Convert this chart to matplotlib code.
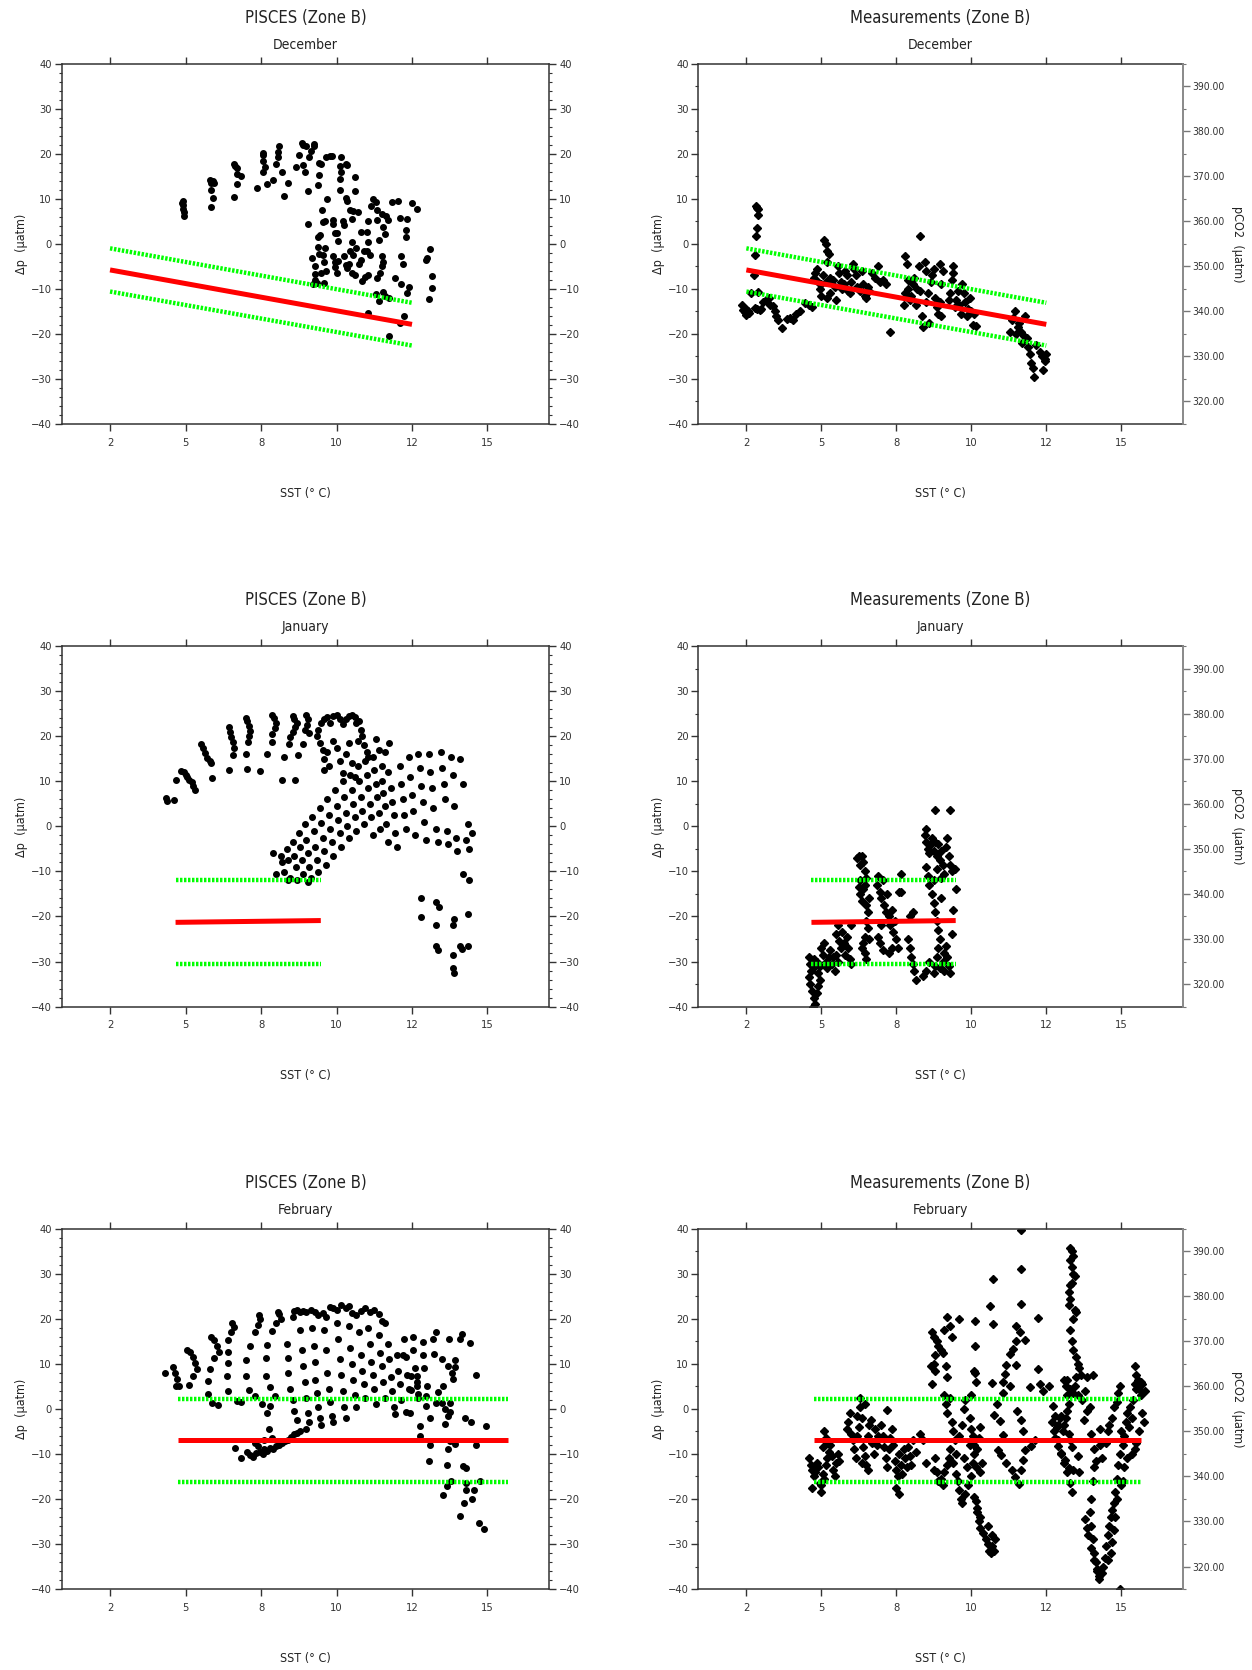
import matplotlib
matplotlib.use("Agg")
import matplotlib.pyplot as plt
from matplotlib.ticker import MultipleLocator, FormatStrFormatter
import numpy as np

plt.rcParams['font.family'] = ['DejaVu Sans']
plt.rcParams['font.stretch'] = 'condensed'
plt.rcParams['axes.unicode_minus'] = True

# x axis: ticks every 2.5 degC, labels are the rounded values
xtick_pos = [2.5, 5, 7.5, 10, 12.5, 15]
xtick_lab = ['2', '5', '8', '10', '12', '15']
pco2_offset = 355.0   # pCO2 = dp + 355

# ---------------- December ----------------
dec_fit_x = [2.5, 12.5]
dec_fit_y = [-5.8, -17.9]
dec_up_y = [-1.0, -13.1]
dec_lo_y = [-10.6, -22.6]

dec_pisces = [
    (4.88, 9.0), (4.9, 9.5), (4.9, 8.7), (4.92, 7.8), (4.95, 7.0), (4.95, 6.2),
    (5.8, 14.2), (5.85, 13.5), (5.9, 14.0), (5.95, 13.6), (5.85, 12.0), (5.9, 10.2), (5.85, 8.2),
    (6.6, 17.8), (6.65, 17.2), (6.72, 16.8), (6.85, 15.0), (6.7, 15.6), (6.7, 13.3), (6.6, 10.3),
    (7.37, 12.3), (7.55, 19.8), (7.55, 20.2), (7.55, 18.4), (7.55, 15.9), (7.62, 17.0), (7.7, 13.4), (7.9, 14.1),
    (8.0, 17.8), (8.05, 19.4), (8.05, 20.5), (8.1, 21.8), (8.2, 15.9), (8.25, 10.6), (8.4, 13.6),
    (8.65, 17.1), (8.75, 19.7), (8.85, 22.4), (8.88, 22.0), (8.9, 17.5), (8.95, 16.0), (9.0, 21.7),
    (9.05, 11.7), (9.05, 4.5), (9.15, 20.6), (9.1, 19.3), (9.25, 22.2), (9.25, 21.7),
    (9.2, -3.2), (9.22, -8.9), (9.3, -5.0), (9.3, -6.6), (9.3, -8.0), (9.35, -8.7), (9.38, -0.8),
    (9.4, 1.6), (9.42, -2.3), (9.4, 13.0), (9.42, 15.2), (9.43, 18.0), (9.45, 1.9), (9.5, -6.4),
    (9.52, 7.6), (9.5, 17.7), (9.55, -2.5), (9.55, 4.8), (9.6, -8.8), (9.6, -4.0), (9.62, -1.0),
    (9.63, 5.1), (9.65, 19.4), (9.65, -6.1), (9.7, 10.0),
    (9.8, 19.5), (9.85, 19.5), (9.9, 5.3), (9.9, 4.5), (9.95, 2.3), (9.9, -2.8), (9.95, -4.0),
    (9.95, -5.2), (10.0, -6.5), (10.0, 2.5), (10.05, 0.6), (10.1, 17.2), (10.1, 14.5), (10.1, 12.0),
    (10.15, 19.2), (10.15, 16.0), (10.05, -3.8), (10.2, 5.0), (10.25, -2.8), (10.25, 4.2),
    (10.3, 17.8), (10.35, 17.6), (10.3, 10.2), (10.35, 9.5), (10.3, -4.8), (10.35, -5.3),
    (10.4, -4.5), (10.45, 7.5), (10.45, -1.7), (10.5, -6.4), (10.5, 5.5), (10.5, 0.4),
    (10.55, 7.3), (10.55, -2.5), (10.6, 14.8), (10.6, 11.8), (10.6, -7.0), (10.65, -0.9),
    (10.7, 7.0), (10.75, -4.5), (10.8, 2.7), (10.8, -3.5), (10.85, -8.3), (10.9, -1.5),
    (10.95, -7.4), (11.0, 2.7), (11.0, -1.6), (11.05, 5.1), (11.05, 0.5), (11.05, -7.0),
    (11.05, -15.4), (11.1, -2.5), (11.15, 8.3), (11.2, 10.0), (11.3, 9.4), (11.3, -11.2),
    (11.35, 7.5), (11.35, 5.3), (11.4, 0.9), (11.35, -7.7), (11.4, -12.8), (11.45, -6.4),
    (11.5, 6.7), (11.5, -2.7), (11.5, -5.0), (11.55, -4.0), (11.55, 3.8), (11.55, -10.6),
    (11.6, -11.6), (11.6, 2.1), (11.65, 6.1), (11.7, 5.4), (11.75, -12.0), (11.75, -20.5),
    (11.85, 9.3), (11.95, -7.5), (12.05, 9.5), (12.1, 5.8), (12.15, -9.0), (12.1, -17.6),
    (12.15, -2.6), (12.2, -4.5), (12.25, -16.0), (12.3, 1.5), (12.3, 3.0), (12.35, 5.5),
    (12.35, -10.9), (12.4, -9.7), (12.5, 9.1), (12.65, 7.8), (12.95, -3.7), (13.0, -3.2),
    (13.05, -12.2), (13.1, -1.1), (13.15, -9.9), (13.15, -7.1),
]

dec_meas = [
    (2.35, -13.5), (2.4, -14.8), (2.45, -15.2), (2.5, -15.8), (2.55, -15.0), (2.6, -15.3), (2.5, -14.5), (2.65, -11.0),
    (2.82, 8.5), (2.85, 8.0), (2.9, 7.8), (2.88, 6.5), (2.85, 3.5), (2.82, 1.8), (2.78, -2.5), (2.75, -7.0),
    (2.9, -10.8), (2.8, -14.2), (2.85, -14.5), (2.95, -14.8), (3.0, -14.5),
    (3.05, -13.0), (3.15, -12.5), (3.25, -12.0), (3.3, -13.5), (3.4, -13.8), (3.45, -15.0), (3.5, -16.0),
    (3.55, -17.0), (3.7, -18.7), (3.85, -16.8), (3.95, -16.5), (4.05, -17.0), (4.15, -15.5), (4.3, -15.0),
    (4.45, -13.2), (4.6, -13.5), (4.7, -14.0),
    (4.75, -7.5), (4.8, -6.5), (4.85, -5.5), (4.9, -8.5), (4.95, -10.0), (5.0, -11.5), (5.0, -9.0),
    (5.05, -7.0), (5.1, 0.8), (5.15, 0.0), (5.2, -1.5), (5.25, -2.2), (5.2, -4.0), (5.15, -8.5),
    (5.2, -12.0), (5.3, -11.0), (5.3, -7.5), (5.4, -8.0), (5.45, -9.5), (5.5, -12.5), (5.55, -5.0),
    (5.6, -6.5), (5.65, -8.5), (5.7, -10.0), (5.75, -9.0), (5.8, -6.0), (5.85, -7.0), (5.9, -10.5),
    (5.95, -11.0), (6.0, -8.5), (6.05, -4.5), (6.1, -5.5), (6.15, -7.0), (6.2, -9.5), (6.3, -10.5),
    (6.35, -6.0), (6.4, -9.0), (6.45, -11.5), (6.5, -12.0), (6.55, -9.5), (6.6, -10.5), (6.7, -6.5),
    (6.8, -7.5), (6.9, -5.0), (6.95, -8.5), (7.05, -8.0), (7.15, -9.0), (7.3, -19.5),
    (7.75, -13.5), (7.8, -11.0), (7.8, -2.8), (7.85, -4.5), (7.9, -8.0), (7.9, -10.0), (7.95, -12.5),
    (8.0, -11.5), (8.05, -9.0), (8.1, -7.5), (8.15, -13.5), (8.2, -10.0), (8.25, -5.0), (8.3, -10.5),
    (8.3, 1.7), (8.35, -16.0), (8.4, -18.5), (8.45, -4.0), (8.5, -6.0), (8.5, -13.0), (8.55, -11.0),
    (8.6, -17.5), (8.65, -8.5), (8.7, -7.0), (8.75, -5.5), (8.8, -12.0), (8.85, -14.0), (8.9, -15.5),
    (8.95, -13.0), (8.95, -4.5), (9.0, -9.0), (9.0, -16.0), (9.05, -6.0),
    (9.25, -12.5), (9.3, -11.0), (9.35, -8.0), (9.4, -5.0), (9.4, -6.5), (9.45, -14.0), (9.5, -12.5),
    (9.55, -10.5), (9.6, -13.5), (9.65, -15.5), (9.7, -9.0), (9.75, -11.0), (9.8, -13.0), (9.85, -16.0),
    (9.9, -14.5), (9.95, -12.0), (10.0, -15.0), (10.05, -18.0), (10.1, -15.5), (10.15, -18.2),
    (11.3, -19.5), (11.35, -17.0), (11.4, -16.5), (11.45, -15.0), (11.5, -20.0), (11.55, -18.5),
    (11.6, -17.5), (11.65, -19.5), (11.7, -22.0), (11.75, -20.5), (11.8, -16.0), (11.85, -21.0),
    (11.9, -23.0), (11.95, -24.5), (12.0, -26.5), (12.05, -27.5), (12.1, -29.5), (12.15, -22.5),
    (12.3, -24.0), (12.35, -25.0), (12.4, -28.0), (12.45, -25.5), (12.5, -24.5), (12.45, -26.0),
]

# ---------------- January ----------------
jan_fit_x = [4.67, 9.48]
jan_fit_y = [-21.3, -20.9]
jan_up_y = [-11.8, -11.8]
jan_lo_y = [-30.5, -30.5]

jan_pisces = [
    (4.35, 6.3), (4.4, 5.6), (4.62, 5.8), (4.67, 10.4), (4.85, 12.4), (4.95, 12.0), (5.0, 11.5),
    (5.05, 10.9), (5.12, 10.4), (5.2, 9.9), (5.25, 9.0), (5.3, 8.1),
    (5.52, 18.3), (5.58, 17.5), (5.65, 16.3), (5.72, 15.2), (5.8, 14.6), (5.86, 14.0), (5.88, 10.7),
    (6.45, 22.0), (6.48, 21.0), (6.52, 19.8), (6.58, 18.7), (6.6, 17.4), (6.56, 15.8), (6.45, 12.6),
    (7.0, 24.0), (7.05, 23.4), (7.1, 22.4), (7.12, 21.3), (7.1, 20.2), (7.06, 18.8), (7.0, 16.0),
    (7.03, 12.7), (7.45, 12.3),
    (7.85, 24.7), (7.92, 24.0), (7.98, 23.0), (7.95, 21.9), (7.87, 20.6), (7.86, 18.8), (7.7, 16.2),
    (8.27, 15.5), (8.18, 10.4),
    (8.55, 24.6), (8.6, 23.9), (8.68, 23.0), (8.62, 22.0), (8.55, 21.0), (8.45, 19.8), (8.44, 18.4),
    (8.73, 15.8), (8.63, 10.4),
    (9.0, 24.7), (9.05, 23.8), (9.02, 22.6), (8.95, 21.5), (9.1, 20.7), (8.9, 18.4),
    (9.35, 20.0), (9.4, 21.5), (9.5, 22.9), (9.6, 23.8), (9.7, 24.3), (9.45, 18.5), (9.55, 17.0),
    (9.8, 23.0), (9.9, 24.6), (10.0, 24.8), (10.1, 23.9), (10.2, 22.7), (10.3, 23.8), (10.4, 24.5),
    (10.5, 24.8), (10.6, 24.3), (10.65, 23.0), (10.75, 23.5), (10.8, 21.5), (10.85, 20.0), (10.7, 19.0),
    (10.9, 18.0), (11.0, 16.5), (11.05, 15.5), (9.6, 15.0), (9.6, 12.5), (9.7, 16.5), (9.75, 13.5),
    (9.9, 19.0), (10.0, 17.5), (10.1, 14.5), (10.2, 11.8), (10.3, 16.0), (10.4, 18.5), (10.5, 14.0),
    (10.6, 11.0), (11.2, 15.5), (11.3, 19.5), (11.4, 17.0), (11.5, 13.5), (11.6, 16.5), (11.7, 12.0),
    (11.75, 18.5),
    (8.15, -6.5), (8.2, -8.0), (8.25, -10.2), (8.35, -5.0), (8.4, -7.5), (8.45, -11.5), (8.55, -3.5),
    (8.6, -6.5), (8.65, -9.0), (8.7, -11.8), (8.75, -1.5), (8.8, -4.5), (8.85, -7.5), (8.9, -10.5),
    (8.95, 0.5), (9.0, -3.0), (9.05, -5.8), (9.1, -9.0), (9.15, -11.5), (9.2, 2.0), (9.25, -1.0),
    (9.3, -4.5), (9.35, -7.5), (9.4, -10.2), (9.45, 4.0), (9.5, 0.8), (9.55, -2.5), (9.6, -5.5),
    (9.65, -8.5), (9.7, 6.0), (9.75, 2.5), (9.8, -0.5), (9.85, -3.5), (9.9, -6.5), (9.95, 8.0),
    (10.0, 4.5), (10.05, 1.5), (10.1, -1.5), (10.15, -4.5), (10.2, 10.0), (10.25, 6.5), (10.3, 3.0),
    (10.35, 0.0), (10.4, -2.5), (10.45, 11.5), (10.5, 8.0), (10.55, 5.0), (10.6, 2.0), (10.65, -1.0),
    (10.7, 13.5), (10.75, 10.0), (10.8, 6.5), (10.85, 3.5), (10.9, 0.5), (10.95, 14.5), (11.0, 11.5),
    (11.05, 8.5), (11.1, 5.0), (11.15, 2.0), (11.2, -2.0), (11.25, 12.5), (11.3, 9.5), (11.35, 6.5),
    (11.4, 3.0), (11.45, -0.5), (11.5, 10.0), (11.55, 7.5), (11.6, 4.5), (11.65, 0.5), (11.7, -3.5),
    (11.8, 8.5), (11.85, 5.5), (11.9, 2.5), (11.95, -1.5), (12.0, -4.5), (12.1, 13.5), (12.15, 9.5),
    (12.2, 6.0), (12.25, 2.5), (12.3, -0.5), (12.4, 15.5), (12.45, 11.0), (12.5, 7.0), (12.55, 3.5),
    (12.6, -2.0), (12.7, 16.0), (12.75, 13.0), (12.8, 9.0), (12.85, 5.5), (12.9, 1.0), (12.95, -3.0),
    (13.05, 16.0), (13.1, 12.0), (13.15, 8.5), (13.2, 4.0), (13.3, -0.5), (13.35, -3.5), (13.45, 16.5),
    (13.5, 13.0), (13.55, 9.5), (13.6, 6.0), (13.65, -1.0), (13.7, -4.0), (13.8, 15.5), (13.85, 11.5),
    (13.9, 4.5), (13.95, -2.5), (14.0, -5.5), (14.1, 15.0), (14.2, 9.5), (14.3, -3.0), (14.35, 0.5),
    (14.4, -5.0), (14.5, -1.5), (8.4, -12.0), (8.0, -10.5), (7.9, -6.0), (9.05, -12.3),
    (12.8, -15.9), (12.8, -20.2), (13.3, -16.8), (13.4, -18.0), (13.3, -22.0), (13.3, -26.5),
    (13.35, -27.5), (13.85, -28.5), (13.85, -31.5), (13.9, -32.5), (13.9, -20.5), (13.85, -22.0),
    (14.1, -26.5), (14.15, -27.2), (14.35, -26.5), (14.35, -19.5), (14.2, -10.5), (14.4, -12.0),
]

jan_meas = [
    (4.6, -29.0), (4.62, -30.5), (4.65, -32.0), (4.6, -33.5), (4.63, -35.0), (4.7, -36.5), (4.75, -38.0),
    (4.8, -39.5), (4.72, -40.0), (4.85, -37.0), (4.9, -35.5), (4.95, -34.0), (4.9, -32.5), (4.8, -31.0),
    (4.75, -29.5), (4.85, -30.0), (4.95, -31.0),
    (5.0, -27.0), (5.05, -28.5), (5.1, -26.0), (5.15, -30.0), (5.2, -31.5), (5.25, -29.0), (5.3, -27.5),
    (5.35, -30.5), (5.4, -29.0), (5.45, -32.0), (5.5, -28.5), (5.55, -30.0),
    (5.5, -24.0), (5.55, -22.0), (5.6, -25.5), (5.65, -27.0), (5.7, -23.5), (5.75, -26.0), (5.8, -28.5),
    (5.85, -24.5), (5.9, -27.0), (5.95, -29.5), (6.0, -30.5), (6.0, -22.0),
    (6.2, -7.0), (6.25, -6.5), (6.3, -8.5), (6.35, -6.5), (6.4, -8.0), (6.45, -10.0), (6.5, -11.5),
    (6.3, -12.0), (6.25, -13.5), (6.3, -15.0), (6.35, -16.5), (6.4, -14.0), (6.45, -13.0), (6.5, -17.5),
    (6.55, -19.0), (6.6, -16.0), (6.5, -21.0), (6.55, -22.5), (6.45, -24.5), (6.4, -26.0), (6.35, -27.0),
    (6.45, -28.0), (6.5, -29.5), (6.6, -25.0),
    (6.85, -13.0), (6.9, -11.0), (6.95, -14.5), (7.0, -16.0), (7.05, -12.0), (7.1, -17.5), (7.15, -19.0),
    (7.2, -15.0), (7.25, -20.0), (7.3, -22.0), (7.35, -18.5), (7.4, -23.5), (7.45, -21.0), (7.5, -25.0),
    (7.55, -27.0), (7.6, -14.5), (7.65, -14.5), (7.65, -10.5), (6.9, -24.5), (6.95, -26.0), (7.05, -27.5),
    (7.0, -22.0), (7.35, -27.0), (7.25, -28.0),
    (7.9, -25.0), (7.95, -27.0), (8.0, -29.0), (8.05, -30.5), (8.1, -32.0), (8.15, -34.0), (8.05, -19.0),
    (7.95, -20.0),
    (8.8, 3.7), (9.3, 3.7), (8.5, -0.5), (8.45, -2.0), (8.5, -3.5), (8.55, -5.0), (8.6, -6.0), (8.65, -4.0),
    (8.7, -2.5), (8.75, -5.5), (8.8, -3.5), (8.85, -6.5), (8.9, -4.0), (8.95, -7.5), (9.0, -5.5),
    (9.05, -8.5), (9.15, -4.5), (9.2, -2.5), (9.25, -6.5), (9.3, -8.5), (9.35, -10.0), (9.45, -9.5),
    (8.5, -9.0), (8.55, -11.0), (8.6, -13.0), (8.75, -12.0), (8.85, -9.5), (9.0, -11.5), (9.1, -10.5),
    (8.7, -15.0), (8.75, -17.0), (8.8, -19.0), (8.85, -21.0), (8.9, -23.0), (9.0, -16.0), (8.95, -25.0),
    (8.9, -27.0), (8.85, -29.0), (8.8, -31.0), (8.95, -31.5), (9.05, -30.0), (9.1, -28.0), (9.15, -26.5),
    (9.2, -29.0), (9.25, -31.0), (9.3, -32.5), (9.1, -32.0), (8.75, -32.5), (8.6, -30.0), (8.5, -32.0),
    (8.4, -33.3), (9.35, -24.0), (9.5, -14.0), (9.4, -18.5),
]

# ---------------- February ----------------
feb_fit_x = [4.75, 15.67]
feb_fit_y = [-7.0, -7.0]
feb_up_y = [2.2, 2.2]
feb_lo_y = [-16.2, -16.2]

feb_pisces = [
    (4.33, 7.9), (4.6, 9.3), (4.65, 8.0), (4.72, 6.6), (4.8, 5.2), (4.69, 5.2), (5.13, 5.4), (5.26, 7.3),
    (5.05, 13.0), (5.15, 12.6), (5.25, 11.6), (5.3, 10.2), (5.37, 8.9),
    (5.85, 16.0), (5.95, 15.4), (6.05, 14.0), (6.1, 12.6), (5.95, 11.3), (5.8, 8.9), (5.76, 6.3),
    (5.76, 3.3), (5.87, 1.4), (6.06, 0.9),
    (6.55, 19.0), (6.6, 18.3), (6.5, 17.0), (6.42, 15.3), (6.4, 12.7), (6.4, 10.2), (6.37, 7.3),
    (6.42, 3.9), (6.7, 1.8), (6.83, 1.6), (6.64, -8.6), (6.84, -11.0),
    (7.42, 20.8), (7.45, 20.0), (7.4, 18.6), (7.3, 17.2), (7.14, 14.1), (7.0, 10.8), (7.0, 7.4),
    (7.1, 4.3), (7.3, 2.8), (7.52, 1.1),
    (8.05, 21.5), (8.1, 21.0), (8.15, 20.0), (8.0, 19.0), (7.85, 17.3), (7.71, 14.3), (7.66, 11.3),
    (7.66, 7.4), (7.8, 4.8), (7.97, 2.9), (7.8, 0.7), (7.71, -0.8),
    (7.05, -9.5), (7.15, -10.3), (7.25, -10.6), (7.35, -9.8), (7.45, -9.5), (7.55, -9.9), (7.6, -9.0),
    (7.7, -9.3), (7.8, -8.6), (7.9, -8.9), (8.0, -8.2), (8.1, -8.0), (8.2, -7.6), (8.3, -7.1),
    (8.4, -6.9), (8.5, -6.2), (8.6, -5.6), (8.7, -5.3), (8.8, -5.0), (9.0, -4.5), (7.4, -8.3),
    (7.3, -7.5), (7.6, -7.0), (7.75, -4.5), (7.85, -6.5),
    (8.6, 21.8), (8.7, 22.1), (8.8, 21.6), (8.9, 21.7), (9.0, 21.5), (8.55, 20.5), (9.15, 21.9),
    (9.3, 21.5), (9.4, 20.8), (9.55, 21.3), (9.65, 20.5), (9.8, 22.7), (9.9, 22.4), (10.0, 21.9),
    (10.15, 23.0), (10.3, 22.5), (10.4, 22.8), (10.5, 21.3), (10.65, 20.9), (10.8, 21.8), (10.95, 22.5),
    (11.1, 21.5), (11.25, 22.0), (11.4, 21.0), (11.5, 19.5), (11.6, 19.0),
    (8.35, 14.5), (8.4, 11.3), (8.4, 8.0), (8.45, 4.5), (8.55, 2.0), (8.6, -0.5), (8.7, -2.5),
    (8.8, 17.5), (8.85, 13.0), (8.9, 9.5), (8.95, 6.0), (9.0, 2.5), (9.05, -1.0), (9.1, -3.0),
    (9.2, 18.0), (9.25, 14.0), (9.3, 10.5), (9.3, 6.5), (9.35, 3.5), (9.4, 0.5), (9.45, -2.0),
    (9.5, -3.5), (9.6, 17.5), (9.65, 13.0), (9.7, 8.0), (9.75, 4.5), (9.8, 1.5), (9.85, -1.5),
    (9.9, -3.0), (10.0, 19.0), (10.05, 15.5), (10.1, 11.0), (10.15, 7.5), (10.2, 4.0), (10.25, 0.5),
    (10.3, -2.0), (10.4, 18.5), (10.45, 13.5), (10.5, 10.0), (10.55, 6.5), (10.6, 3.0), (10.65, 0.5),
    (10.75, 17.0), (10.8, 12.0), (10.85, 8.5), (10.9, 5.5), (10.95, 2.5), (11.05, 18.0), (11.1, 14.5),
    (11.15, 10.5), (11.2, 7.5), (11.25, 4.5), (11.3, 1.0), (11.4, 16.5), (11.45, 12.5), (11.5, 9.5),
    (11.55, 6.0), (11.6, 2.5), (11.7, 14.5), (11.75, 11.0), (11.8, 7.0), (11.85, 4.0), (11.9, 0.5),
    (12.0, 12.0), (12.05, 8.5), (12.1, 5.5), (12.15, 2.0), (12.25, 15.5), (12.3, 11.5), (12.35, 7.5),
    (12.4, 4.5), (12.45, -1.0), (12.55, 13.0), (12.6, 9.0), (12.65, 6.0), (12.7, 2.5),
    (11.93, -1.2), (12.3, -0.7), (12.2, 11.9), (12.46, 7.4), (12.48, 4.2), (12.65, 5.2), (12.67, 7.3),
    (12.7, 3.3), (12.54, 16.0), (12.87, 14.9), (12.85, 11.9), (12.9, 9.0), (13.01, 5.0), (12.96, 2.9),
    (12.96, 0.7), (12.76, -3.8), (13.09, -1.9), (13.29, 1.4), (13.48, 1.4), (13.58, 0.1), (13.75, 1.4),
    (13.75, -0.7), (13.7, -1.6), (13.58, -3.4), (12.76, -6.0), (13.09, -8.0), (13.06, -11.5),
    (13.36, 3.7), (13.53, 5.2), (13.86, 6.7), (13.7, 9.5), (13.48, 11.1), (13.22, 12.3), (13.2, 15.5),
    (13.31, 17.1), (13.72, 15.6), (14.08, 15.6), (14.15, 16.6), (13.84, 8.0), (13.92, 9.3), (13.92, 10.8),
    (14.43, 14.6), (14.63, 7.6), (14.96, -3.8), (14.27, -1.9), (14.46, -2.9), (13.77, -7.1), (13.92, -7.7),
    (13.7, -9.0), (14.63, -8.0), (13.66, -12.4), (14.19, -12.7), (14.28, -13.1), (14.74, -15.9),
    (13.8, -16.1), (14.3, -16.5), (13.66, -17.2), (14.3, -18.0), (14.55, -18.0), (13.53, -19.1),
    (14.49, -20.0), (14.22, -21.0), (14.08, -23.8), (14.72, -25.3), (14.9, -26.6),
]

feb_meas = [
    (4.6, -11.0), (4.65, -12.5), (4.7, -13.5), (4.75, -15.0), (4.8, -14.0), (4.85, -12.0), (4.9, -13.0),
    (4.95, -16.5), (5.0, -17.0), (5.05, -14.5), (5.1, -15.5), (5.15, -12.5), (5.2, -11.0), (5.25, -9.5),
    (5.05, -8.5), (5.1, -5.0), (5.15, -6.5), (5.2, -7.5), (5.3, -8.0), (5.35, -10.5), (5.4, -13.5),
    (5.45, -15.0), (5.5, -12.0), (5.55, -10.0), (5.6, -11.5), (5.0, -18.5), (4.7, -17.5),
    (5.85, -4.5), (5.9, -3.0), (5.95, -1.0), (6.0, -5.5), (6.05, -7.0), (6.1, -9.0), (6.15, -11.0),
    (6.2, -6.0), (6.25, -4.0), (6.3, 0.5), (6.35, -2.0), (6.4, -8.5), (6.45, -10.5), (6.5, -12.5),
    (6.55, -6.0), (6.6, -3.5), (6.65, -2.5), (6.7, -7.5), (6.75, -10.0), (6.8, -4.5), (6.85, -8.0),
    (6.9, -6.0), (6.3, 2.5), (6.45, 1.0), (6.2, -1.5), (6.35, -12.0), (6.55, -13.5),
    (7.0, -3.5), (7.05, -6.0), (7.1, -8.5), (7.15, -11.0), (7.2, -13.0), (7.25, -9.0), (7.3, -6.5),
    (7.35, -4.5), (7.4, -8.0), (7.45, -11.5), (7.5, -13.5), (7.55, -15.0), (7.6, -10.0), (7.65, -12.5),
    (7.7, -14.5), (7.75, -9.0), (7.8, -11.0), (7.85, -13.0), (7.9, -8.5), (7.95, -10.5), (8.0, -12.5),
    (8.05, -7.0), (8.15, -9.5), (8.3, -5.5), (8.4, -7.0), (7.2, -0.2), (7.5, -17.5), (7.6, -19.0),
    (8.5, -12.0),
    (8.7, 17.0), (8.75, 16.0), (8.85, 15.0), (8.9, 14.0), (9.0, 13.0), (9.1, 17.5), (9.05, 12.5),
    (8.8, 12.0), (8.75, 10.0), (8.8, 8.5), (8.65, 9.5), (8.7, 5.5), (9.6, 20.0), (9.2, 20.5),
    (9.3, 18.5), (9.35, 16.0), (9.15, 9.5), (9.2, 7.0),
    (9.1, 3.0), (9.15, 1.0), (9.2, -1.0), (9.3, 2.5), (9.35, -3.0), (9.4, -5.0), (9.45, -7.0),
    (9.3, -9.0), (9.25, -11.0), (9.2, -12.5), (9.1, -14.0), (9.0, -15.5), (9.05, -17.0), (8.9, -16.0),
    (8.85, -14.0), (8.75, -13.5), (8.8, -11.0), (9.4, -12.0), (9.5, -14.5), (9.55, -16.0), (9.6, -18.0),
    (9.65, -20.0), (9.7, -21.0), (9.8, -19.0), (9.9, -17.0), (10.0, -15.0), (10.1, -19.5), (10.2, -22.0),
    (10.3, -24.0), (9.5, -10.0), (9.6, -6.0), (9.7, -3.5), (9.75, 0.0), (9.8, 2.0), (10.0, 3.0),
    (10.1, 8.5), (10.15, 6.0), (9.95, -8.0), (9.75, -11.0), (9.85, -13.0),
    (9.96, -2.0), (10.0, -4.5), (10.05, -6.0), (10.1, -8.0), (10.1, -10.0), (10.05, -12.0),
    (10.15, -13.0), (10.2, -9.0), (10.25, -6.5), (10.3, -4.0), (10.35, -12.0), (10.3, -14.0),
    (10.15, -20.5), (10.2, -23.0), (10.25, -25.0), (10.3, -26.5), (10.4, -27.5), (10.5, -29.0),
    (10.55, -30.0), (10.6, -31.5), (10.65, -32.0), (10.7, -30.5), (10.75, -31.5), (10.8, -29.0),
    (10.7, -28.0), (10.55, -26.0),
    (11.65, 39.8), (11.65, 31.0), (11.65, 23.3), (10.73, 28.8), (10.62, 22.9), (10.73, 18.8),
    (10.12, 19.6), (10.12, 13.9), (10.12, 8.1), (12.22, 20.3), (11.5, 18.5), (11.62, 17.1),
    (11.78, 15.4), (11.5, 15.0), (11.4, 13.3), (11.28, 12.2), (11.15, 9.8), (11.5, 9.7), (11.12, 7.7),
    (11.07, 6.1), (11.28, 5.1), (10.7, 5.8), (11.07, 3.6), (10.84, 1.0), (10.75, -1.3), (10.95, -2.7),
    (11.07, -5.7), (10.9, -9.1), (11.0, -10.2), (11.17, -12.1), (11.34, -13.6), (11.45, -15.1),
    (11.6, -16.6), (11.67, -13.6), (11.73, -11.3), (11.78, -9.1), (12.0, -8.3), (12.11, -6.9),
    (11.54, -0.5), (11.67, -2.4), (11.73, -5.0), (11.97, 4.9), (12.22, 8.8), (12.28, 5.5),
    (12.39, 4.0), (12.58, 5.2), (12.72, 0.6), (12.78, -1.6), (12.89, -8.3), (13.0, -9.8),
    (13.11, -11.3), (13.25, -13.2),
    (13.3, 35.8), (13.35, 35.0), (13.4, 34.0), (13.3, 33.0), (13.35, 31.5), (13.4, 30.0), (13.45, 29.5),
    (13.35, 28.0), (13.3, 27.5), (13.25, 26.0), (13.3, 24.5), (13.25, 23.0), (13.45, 22.0), (13.5, 21.5),
    (13.4, 20.0), (13.3, 17.5), (13.35, 15.0), (13.4, 13.0), (13.5, 11.5), (13.55, 10.0), (13.6, 9.0),
    (13.65, 7.5), (13.5, 7.0), (13.45, 5.0), (13.4, 3.5), (13.55, 3.0), (13.7, 2.0), (13.3, 4.5),
    (13.2, 6.5), (13.1, 6.5), (13.15, 5.0), (13.2, 3.0), (13.25, 1.0), (13.2, -0.5), (13.15, -2.0),
    (13.1, -3.5), (13.05, -5.0), (13.0, -1.5), (12.9, -3.5), (13.25, -5.5), (13.3, -7.0), (13.35, -8.5),
    (13.55, -10.5), (13.6, -14.0), (13.75, -2.5), (13.85, -0.5), (13.95, 0.5), (13.8, 4.0), (13.85, 7.0),
    (14.05, 7.5),
    (12.7, -3.0), (12.75, -5.0), (12.8, -6.5), (12.85, -4.0), (12.9, -7.0), (12.95, -2.0), (13.0, -10.0),
    (13.1, -12.0), (13.2, -14.0), (13.3, -16.5), (13.35, -18.5), (13.4, -13.5),
    (14.0, -5.5), (14.1, -9.0), (14.15, -11.5), (14.3, -4.5),
    (14.1, -13.0), (14.05, -16.0), (14.0, -20.0), (13.95, -23.0), (14.0, -26.0), (14.05, -29.0),
    (14.1, -32.0), (14.15, -34.0), (14.2, -35.5), (14.25, -37.0), (14.35, -36.5), (14.4, -35.0),
    (14.45, -33.0), (14.5, -30.5), (14.55, -28.0), (14.6, -26.0), (14.65, -24.0), (14.7, -22.5),
    (14.75, -21.0), (14.8, -18.5), (14.85, -15.5), (14.9, -12.5), (14.95, -10.0), (14.85, -20.0),
    (14.8, -24.0), (14.75, -27.0), (14.7, -29.5), (14.65, -32.0), (14.55, -33.5), (14.95, -40.0),
    (14.3, -8.0), (14.35, -11.0), (14.5, -7.5), (14.55, -5.0), (14.6, -3.5), (14.7, -2.0), (14.75, 0.5),
    (14.85, 1.5), (14.9, 3.5), (14.95, 5.0),
    (13.8, -24.5), (13.85, -26.5), (13.9, -28.0), (14.0, -31.0), (14.1, -33.5), (14.2, -36.0),
    (14.25, -37.8), (14.3, -36.5),
    (15.0, -5.0), (15.05, -8.0), (15.1, -6.0), (15.15, -3.0), (15.2, -1.0), (15.25, -4.0), (15.3, 0.5),
    (15.35, -2.0), (15.4, 2.0), (15.45, 5.5), (15.5, 7.5), (15.45, 9.5), (15.55, 6.5), (15.6, 4.5),
    (15.65, 3.0), (15.7, -1.0), (15.6, -5.0), (15.5, -7.5), (15.45, -9.0), (15.35, -10.0), (15.2, -11.0),
    (15.1, -13.0), (15.05, -16.0), (15.0, -17.0), (15.65, 6.0), (15.7, 5.5), (15.5, 4.5), (15.8, 4.0),
    (15.75, -3.0),
]

months = ['December', 'January', 'February']
pisces_sets = [dec_pisces, jan_pisces, feb_pisces]
meas_sets = [dec_meas, jan_meas, feb_meas]
fit_x = [dec_fit_x, jan_fit_x, feb_fit_x]
fit_y = [dec_fit_y, jan_fit_y, feb_fit_y]
up_y = [dec_up_y, jan_up_y, feb_up_y]
lo_y = [dec_lo_y, jan_lo_y, feb_lo_y]

fig = plt.figure(figsize=(12.52, 16.70), dpi=100)

col_left = [0.0493, 0.5578]
col_w = [0.3895, 0.3869]
row_bot = [0.7462, 0.3973, 0.0485]
row_h = 0.2156

axis_col = '#333333'
txt = dict(color='#222222')


def setup(ax, minor_step):
    ax.set_xlim(0.9, 17.05)
    ax.set_ylim(-40, 40)
    ax.set_xticks(xtick_pos)
    ax.set_xticklabels(xtick_lab)
    ax.yaxis.set_major_locator(MultipleLocator(10))
    ax.yaxis.set_minor_locator(MultipleLocator(minor_step))
    ax.tick_params(axis='x', which='both', direction='out', top=True, bottom=True,
                   length=5, width=1, colors=axis_col, labelsize=8, pad=5)
    ax.tick_params(axis='y', which='major', direction='out', length=5, width=1,
                   colors=axis_col, labelsize=8, pad=2)
    ax.tick_params(axis='y', which='minor', direction='out', length=2.5, width=0.8,
                   colors=axis_col)
    for s in ax.spines.values():
        s.set_color(axis_col)
        s.set_linewidth(1.1)
    ax.set_xlabel('SST (° C)', fontsize=9, labelpad=28, **txt)
    ax.set_ylabel('Δp  (μatm)', fontsize=9, labelpad=2, **txt)


for r in range(3):
    for c in range(2):
        ax = fig.add_axes([col_left[c], row_bot[r], col_w[c], row_h])
        if c == 0:
            pts = np.array(pisces_sets[r])
            setup(ax, 2)
            ax.tick_params(axis='y', which='both', right=True, labelright=True)
            ax.plot(pts[:, 0], pts[:, 1], 'o', color='black', markersize=4.0, zorder=2)
            title = 'PISCES (Zone B)'
        else:
            pts = np.array(meas_sets[r])
            setup(ax, 5)
            ax.spines['right'].set_color('#8a8a8a')
            ax.plot(pts[:, 0], pts[:, 1], 'D', color='black', markersize=3.8, zorder=2)
            ax2 = ax.twinx()
            ax2.set_ylim(-40 + pco2_offset, 40 + pco2_offset)
            ax2.yaxis.set_major_locator(MultipleLocator(10))
            ax2.yaxis.set_minor_locator(MultipleLocator(5))
            ax2.yaxis.set_major_formatter(FormatStrFormatter('%.2f'))
            ax2.set_yticks(np.arange(320, 391, 10))
            ax2.tick_params(axis='y', which='major', direction='out', length=5, width=1,
                            colors='#777777', labelcolor='#333333', labelsize=7.5, pad=2)
            ax2.tick_params(axis='y', which='minor', direction='out', length=2.5, width=0.8,
                            colors='#777777')
            for s in ax2.spines.values():
                s.set_visible(False)
            ax2.spines['right'].set_visible(True)
            ax2.spines['right'].set_color('#8a8a8a')
            ax2.spines['right'].set_linewidth(1.3)
            ax2.set_ylabel('pCO2  (μatm)', fontsize=9, rotation=-90, va='center', **txt)
            ax2.yaxis.set_label_coords(1.112, 0.5)
            title = 'Measurements (Zone B)'

        xs = fit_x[r]
        ax.plot(xs, up_y[r], color='#00ff00', lw=3.2, linestyle=(0, (0.55, 0.35)), zorder=3)
        ax.plot(xs, lo_y[r], color='#00ff00', lw=3.2, linestyle=(0, (0.55, 0.35)), zorder=3)
        ax.plot(xs, fit_y[r], color='#ff0000', lw=3.6, solid_capstyle='butt', zorder=4)

        ax.text(0.5, 1.128, title, transform=ax.transAxes, ha='center', va='center',
                fontsize=12, **txt)
        ax.text(0.5, 1.053, months[r], transform=ax.transAxes, ha='center', va='center',
                fontsize=10, **txt)

fig.savefig('out.png', dpi=100)
